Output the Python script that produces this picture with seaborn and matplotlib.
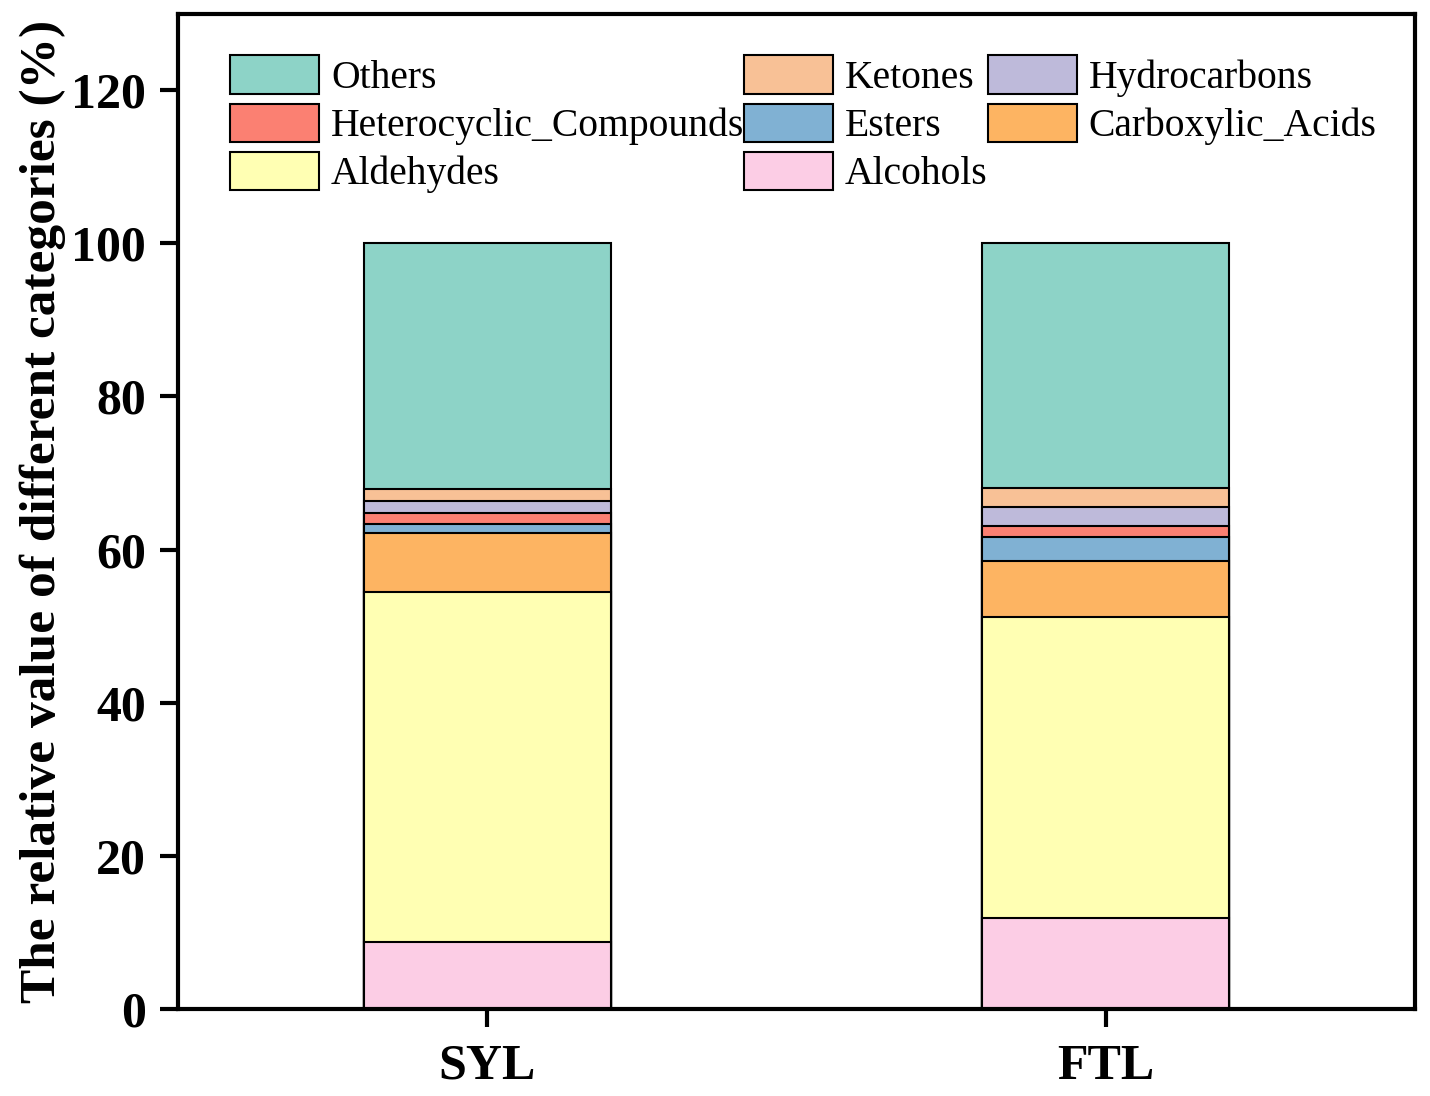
import numpy as np
import pandas as pd
import matplotlib
matplotlib.use("Agg")
import matplotlib.pyplot as plt
from matplotlib.patches import Patch
import seaborn as sns

samples = ["SYL", "FTL"]

# stacking order, bottom to top
categories = ["Alcohols", "Aldehydes", "Carboxylic_Acids", "Esters",
              "Heterocyclic_Compounds", "Hydrocarbons", "Ketones", "Others"]
alcohols = [8.8, 11.9]
aldehydes = [45.6, 39.3]
carboxylic_acids = [7.8, 7.3]
esters = [1.1, 3.1]
heterocyclic = [1.5, 1.5]
hydrocarbons = [1.5, 2.4]
ketones = [1.6, 2.5]
others = [32.1, 32.0]

colors = {
    "Others": "#8DD3C7",
    "Ketones": "#F8C196",
    "Hydrocarbons": "#BEBADA",
    "Heterocyclic_Compounds": "#FB8072",
    "Esters": "#80B1D3",
    "Carboxylic_Acids": "#FDB462",
    "Aldehydes": "#FFFFB3",
    "Alcohols": "#FCCDE5",
}
legend_order = ["Others", "Heterocyclic_Compounds", "Aldehydes",
                "Ketones", "Esters", "Alcohols",
                "Hydrocarbons", "Carboxylic_Acids"]

df = pd.DataFrame({
    "Alcohols": alcohols,
    "Aldehydes": aldehydes,
    "Carboxylic_Acids": carboxylic_acids,
    "Esters": esters,
    "Heterocyclic_Compounds": heterocyclic,
    "Hydrocarbons": hydrocarbons,
    "Ketones": ketones,
    "Others": others,
}, index=samples)
cum = df[categories].cumsum(axis=1)

sns.set_style("ticks")
plt.rcParams["font.family"] = ["Liberation Serif", "DejaVu Serif"]
plt.rcParams.update({"text.color": "black", "axes.labelcolor": "black",
                     "xtick.color": "black", "ytick.color": "black"})

fig = plt.figure(figsize=(14.3, 10.96), dpi=100)
ax = fig.add_axes([0.1245, 0.0795, 0.865, 0.908])

# draw cumulative totals from the top down so each segment shows
for cat in categories[::-1]:
    sns.barplot(x=samples, y=cum[cat].values, color=colors[cat], width=0.4,
                edgecolor="black", linewidth=1.5, saturation=1, ax=ax)

ax.set_xlim(-0.5, 1.5)
ax.set_ylim(0, 130)
ax.set_yticks(np.arange(0, 121, 20))
ax.set_ylabel("The relative value of different categories (%)",
              fontsize=37, fontweight="bold", labelpad=4)
ax.set_xlabel("")
for lab in ax.get_xticklabels() + ax.get_yticklabels():
    lab.set_fontweight("bold")
ax.tick_params(axis="both", labelsize=36, width=3, length=13, direction="out")
ax.tick_params(axis="x", pad=12)
ax.tick_params(axis="y", pad=10)
for sp in ax.spines.values():
    sp.set_linewidth(3)
    sp.set_color("black")
    sp.set_visible(True)

handles = [Patch(facecolor=colors[c], edgecolor="black", linewidth=1.5, label=c)
           for c in legend_order]
ax.legend(handles=handles, ncol=3, frameon=False, fontsize=28.5,
          loc="upper left", bbox_to_anchor=(0.042, 0.958), borderaxespad=0,
          borderpad=0, handlelength=2.25, handleheight=1.12,
          handletextpad=0.3, labelspacing=0.16, columnspacing=0.0)

fig.savefig("out.png", dpi=100)
